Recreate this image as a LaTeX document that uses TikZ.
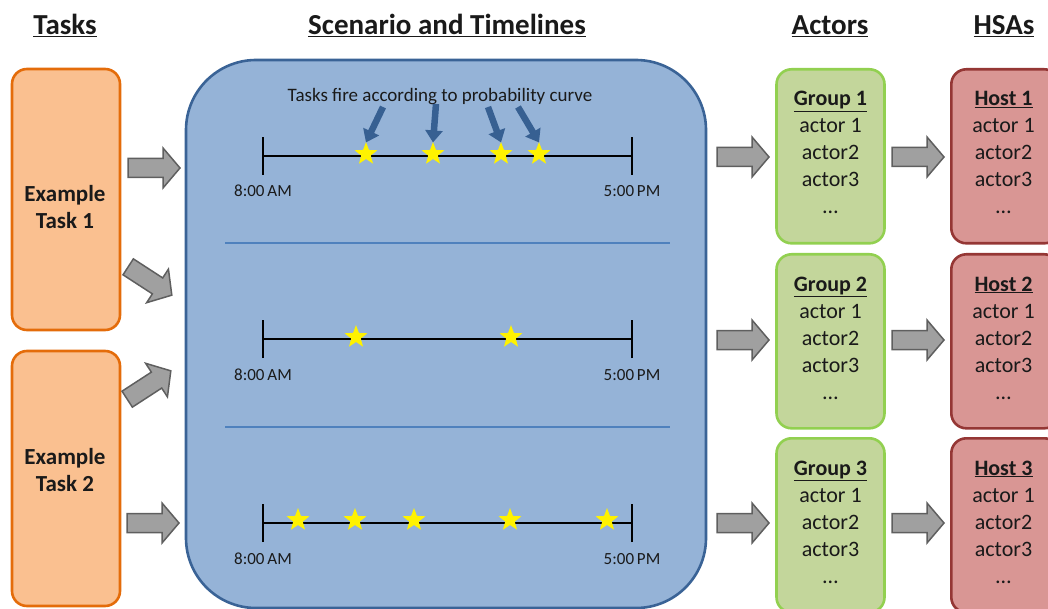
\documentclass[tikz,border=0pt]{standalone}
\usepackage{fontspec}
\setmainfont{Carlito}
\usetikzlibrary{shapes.geometric,arrows.meta}
\definecolor{taskfill}{HTML}{FAC090}
\definecolor{taskline}{HTML}{E46C0A}
\definecolor{scenfill}{HTML}{95B3D7}
\definecolor{scenline}{HTML}{3A6396}
\definecolor{sepline}{HTML}{4F81BD}
\definecolor{firearrow}{HTML}{376092}
\definecolor{groupfill}{HTML}{C3D69B}
\definecolor{groupline}{HTML}{92D050}
\definecolor{hostfill}{HTML}{D99694}
\definecolor{hostline}{HTML}{953735}
\definecolor{flowfill}{HTML}{A0A0A0}
\definecolor{flowline}{HTML}{5F5F5F}
\definecolor{ink}{HTML}{1A1A1A}
\begin{document}
\begin{tikzpicture}[x=1pt,y=-1pt,
  every node/.style={text=ink, inner sep=0pt},
  heading/.style={font=\fontsize{29}{34}\selectfont\bfseries},
  taskbox/.style={draw=taskline, fill=taskfill, line width=2.6pt, rounded corners=15pt, minimum width=108pt},
  scenbox/.style={draw=scenline, fill=scenfill, line width=2.6pt, rounded corners=70pt},
  groupbox/.style={draw=groupline, fill=groupfill, line width=2.6pt, rounded corners=15pt, minimum width=108pt, minimum height=174pt},
  hostbox/.style={draw=hostline, fill=hostfill, line width=2.6pt, rounded corners=15pt, minimum width=108pt, minimum height=174pt},
  tasktext/.style={font=\fontsize{23}{27}\selectfont\bfseries, anchor=base},
  listtext/.style={font=\fontsize{22}{27}\selectfont, anchor=base},
  timelabel/.style={font=\fontsize{17}{20}\selectfont, anchor=base},
  timeline/.style={line width=2.6pt, black},
  separator/.style={line width=2.6pt, sepline},
  firestar/.style={star, star points=5, star point ratio=2.4, fill=yellow, minimum size=24pt},
  fire/.style={line width=6.5pt, firearrow, -{Triangle[width=17pt,length=12pt]}},
  blockarrow/.pic={\draw[fill=flowfill, draw=flowline, line width=1.5pt]
      (-26,-9.5) -- (9,-9.5) -- (9,-20) -- (26,0) -- (9,20) -- (9,9.5) -- (-26,9.5) -- cycle;}
]
\useasboundingbox (0,0) rectangle (1048,609);

% column headings
\node[heading, anchor=base] (hTasks) at (65,35) {\underline{Tasks}};
\node[heading, anchor=base] (hScen) at (447,35) {\underline{Scenario and Timelines}};
\node[heading, anchor=base] (hActors) at (830,35) {\underline{Actors}};
\node[heading, anchor=base] (hHSA) at (1004,35) {\underline{HSAs}};

% task boxes
\node[taskbox, minimum height=261pt] (task1) at (66,199.5) {};
\node[taskbox, minimum height=255pt] (task2) at (66,478.5) {};
\node[tasktext] (task1a) at (65,202) {Example};
\node[tasktext] (task1b) at (65,229) {Task 1};
\node[tasktext] (task2a) at (65,464) {Example};
\node[tasktext] (task2b) at (65,491) {Task 2};

% scenario panel
\node[scenbox, minimum width=520pt, minimum height=548pt] (scen) at (446,334) {};
\draw[separator] (225,243) -- (670,243);
\draw[separator] (225,427) -- (670,427);

% timelines
\foreach \n/\y in {1/156, 2/339, 3/523} {
  \coordinate (tl\n s) at (263,\y);
  \coordinate (tl\n e) at (632,\y);
  \draw[timeline] (tl\n s) -- (tl\n e);
  \draw[timeline] ([yshift=-19pt]tl\n s) -- ([yshift=19pt]tl\n s);
  \draw[timeline] ([yshift=-19pt]tl\n e) -- ([yshift=19pt]tl\n e);
  \node[timelabel] (am\n) at ([yshift=-41pt]tl\n s) {8:00\,AM};
  \node[timelabel] (pm\n) at ([yshift=-41pt]tl\n e) {5:00\,PM};
}

% task firings
\foreach \x [count=\i] in {366,433,501,539}
  \node[firestar] (s1-\i) at (\x,154) {};
\foreach \x [count=\i] in {356,511}
  \node[firestar] (s2-\i) at (\x,337) {};
\foreach \x [count=\i] in {298,355,414,510,607}
  \node[firestar] (s3-\i) at (\x,520) {};

\node[font=\fontsize{19}{23}\selectfont, anchor=base] (firenote) at (440,102) {Tasks fire according to probability curve};
\coordinate (f1) at (383,107);
\coordinate (f2) at (436,104);
\coordinate (f3) at (488,107);
\coordinate (f4) at (518,107);
\draw[fire] (f1) -- ([yshift=-1pt]s1-1.north);
\draw[fire] (f2) -- ([yshift=-1pt]s1-2.north);
\draw[fire] (f3) -- ([yshift=-1pt]s1-3.north);
\draw[fire] (f4) -- ([yshift=-1pt]s1-4.north);

% actor groups and hosts
\foreach \n/\ty in {1/68, 2/253, 3/437} {
  \node[groupbox, anchor=north] (group\n) at (830.5,\ty) {};
  \node[hostbox, anchor=north west] (host\n) at (950,\ty) {};
  \foreach \t [count=\i] in {{\textbf{\underline{Group \n}}}, {actor 1}, {actor2}, {actor3}, {\ldots}}
    \node[listtext] (g\n-\i) at (830.5,\ty+11+27*\i) {\t};
  \foreach \t [count=\i] in {{\textbf{\underline{Host \n}}}, {actor 1}, {actor2}, {actor3}, {\ldots}}
    \node[listtext] (h\n-\i) at (1003.5,\ty+11+27*\i) {\t};
}

% flow arrows
\pic at (154,168) {blockarrow};
\pic[rotate=-33] at (150,281) {blockarrow};
\pic[rotate=33] at (149,385) {blockarrow};
\pic at (153,523) {blockarrow};
\foreach \y in {157,340,523} {
  \pic at (743,\y) {blockarrow};
  \pic at (918,\y) {blockarrow};
}
\end{tikzpicture}
\end{document}
